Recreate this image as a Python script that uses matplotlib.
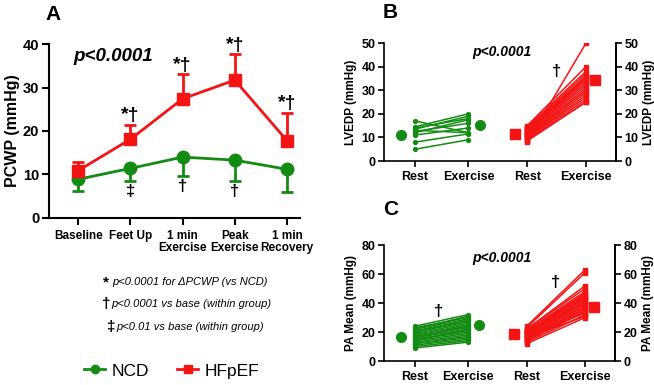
import matplotlib
matplotlib.use('Agg')
import matplotlib.pyplot as plt
from matplotlib.lines import Line2D

plt.rcParams['font.family'] = ['Liberation Sans', 'DejaVu Sans']
plt.rcParams['font.weight'] = 'bold'

GREEN = '#148c14'
RED = '#f41414'

# Panel A: PCWP over the protocol
a_stages = ['Baseline', 'Feet Up', '1 min\nExercise', 'Peak\nExercise', '1 min\nRecovery']
hf_mean = [10.9, 18.1, 27.4, 31.7, 17.8]
hf_err = [1.9, 3.2, 5.6, 5.9, 6.4]
ncd_mean = [8.9, 11.4, 14.0, 13.3, 11.2]
ncd_err = [2.6, 2.9, 4.4, 4.9, 5.2]
hf_marks = ['', '*†', '*†', '*†', '*†']
ncd_marks = ['', '‡', '†', '†', '']

# Panel B: LVEDP rest vs exercise
b_ncd_rest = [17, 14.5, 14, 13.5, 13, 12.5, 12, 11, 8, 5]
b_ncd_ex = [12, 20, 18, 19, 12, 16, 17.5, 14, 11.5, 9]
b_hf_rest = [8, 15, 14.5, 14, 13.5, 13, 13, 12.5, 12, 12, 11.5, 11, 11, 10.5, 10, 10, 9.5, 9, 8.5, 13]
b_hf_ex = [50, 40, 38, 37, 36, 35.5, 35, 34, 33, 32, 31, 30, 30, 29, 28, 27, 26, 25, 25, 34]
b_means = [11.0, 15.3, 11.5, 34.5]

# Panel C: PA mean rest vs exercise
c_ncd_rest = [24, 23, 22, 21, 20, 19, 18, 18, 17, 16, 15, 15, 14, 13, 12, 12, 11, 10, 9, 22, 20, 16, 14]
c_ncd_ex = [32, 30, 29, 28, 27, 26, 25, 24, 23, 22, 21, 20, 19, 18, 17, 16, 15, 14, 13, 31, 28, 24, 22]
c_hf_rest = [24, 23, 22, 22, 21, 20, 20, 19, 19, 18, 18, 17, 17, 16, 16, 15, 15, 14, 14, 13, 12, 21, 20, 18, 16]
c_hf_ex = [63, 61, 52, 50, 48, 47, 46, 45, 44, 43, 42, 41, 40, 39, 38, 37, 36, 35, 34, 32, 30, 44, 40, 33, 31]
c_means = [16.5, 24.5, 18.5, 37.5]

pair_labels = ['Rest', 'Exercise', 'Rest', 'Exercise']
pair_x = [1, 2, 3.1, 4.2]
mean_x = [0.74, 2.21, 2.87, 4.36]

fig = plt.figure(figsize=(6.54, 3.85), dpi=100)

# ---------- A ----------
ax = fig.add_axes([0.0749, 0.4338, 0.3838, 0.4519])
xa = list(range(len(a_stages)))
ax.errorbar(xa, hf_mean, yerr=[[0] * 5, hf_err], color=RED, lw=2, marker='s', ms=9,
            capsize=4, capthick=2, elinewidth=2, zorder=3)
ax.errorbar(xa, ncd_mean, yerr=[ncd_err, [0] * 5], color=GREEN, lw=2, marker='o', ms=9,
            capsize=4, capthick=2, elinewidth=2, zorder=2)
for i in xa:
    if hf_marks[i]:
        ax.text(i, hf_mean[i] + hf_err[i] + 0.2, hf_marks[i], ha='center', va='bottom',
                fontsize=14, fontweight='bold')
    if ncd_marks[i]:
        ax.text(i, ncd_mean[i] - ncd_err[i] - 0.7, ncd_marks[i], ha='center', va='top',
                fontsize=12, fontweight='bold')
ax.text(0.096, 0.93, 'p<0.0001', transform=ax.transAxes, fontsize=13.5, fontstyle='italic',
        fontweight='bold', va='center')
ax.set_xlim(-0.56, 4.25)
ax.set_ylim(0, 40)
ax.set_yticks([0, 10, 20, 30, 40])
ax.set_xticks(xa)
ax.set_xticklabels(a_stages, fontsize=8.5, fontweight='bold', linespacing=1.0)
ax.set_ylabel('PCWP (mmHg)', fontsize=11.5, fontweight='bold', labelpad=2)
ax.tick_params(axis='y', labelsize=10.5, width=1.5, length=5, pad=2)
ax.tick_params(axis='x', width=1.5, length=5)
for s in ['top', 'right']:
    ax.spines[s].set_visible(False)
for s in ['left', 'bottom']:
    ax.spines[s].set_linewidth(1.5)
fig.text(45 / 654, 1 - 14 / 385, 'A', fontsize=15, fontweight='bold', va='center')

# footnotes
notes = [('*', 'p<0.0001 for ΔPCWP (vs NCD)', 103, 282),
         ('†', 'p<0.0001 vs base (within group)', 102, 304),
         ('‡', 'p<0.01 vs base (within group)', 107, 327)]
for sym, txt, px, py in notes:
    fig.text(px / 654, 1 - py / 385, sym, fontsize=11, fontweight='bold', ha='left', va='center')
    fig.text((px + 9) / 654, 1 - py / 385, txt, fontsize=8, fontweight='normal',
             fontstyle='italic', ha='left', va='center')

handles = [Line2D([], [], color=GREEN, lw=2, marker='o', ms=6),
           Line2D([], [], color=RED, lw=2, marker='s', ms=6)]
fig.legend(handles, ['NCD', 'HFpEF'], loc='center', bbox_to_anchor=(172 / 654, 1 - 371 / 385),
           ncol=2, frameon=False, prop={'size': 12.5, 'weight': 'normal'}, handlelength=1.2,
           handletextpad=0.4, columnspacing=1.6)


def pair_panel(rect, letter, ncd_r, ncd_e, hf_r, hf_e, means, ymax, ystep, ylabel, ptxt_y, dag, letter_y):
    ax = fig.add_axes(rect)
    for r, e in zip(ncd_r, ncd_e):
        ax.plot(pair_x[:2], [r, e], color=GREEN, lw=1.1, marker='o', ms=2.8)
    for r, e in zip(hf_r, hf_e):
        ax.plot(pair_x[2:], [r, e], color=RED, lw=1.1, marker='s', ms=2.8)
    ax.plot(mean_x[0], means[0], 'o', color=GREEN, ms=7)
    ax.plot(mean_x[1], means[1], 'o', color=GREEN, ms=7)
    ax.plot(mean_x[2], means[2], 's', color=RED, ms=7)
    ax.plot(mean_x[3], means[3], 's', color=RED, ms=7)
    for dx, dy in dag:
        ax.text(dx, dy, '†', ha='center', va='center', fontsize=12, fontweight='bold')
    ax.text(2.63, ptxt_y, 'p<0.0001', ha='center', va='center', fontsize=10,
            fontstyle='italic', fontweight='bold')
    ax.set_xlim(0.42, 4.76)
    ax.set_ylim(0, ymax)
    ax.set_yticks(range(0, ymax + 1, ystep))
    ax.set_xticks(pair_x)
    ax.set_xticklabels(pair_labels, fontsize=9, fontweight='bold')
    ax.set_ylabel(ylabel, fontsize=8.5, fontweight='bold', labelpad=3)
    ax.tick_params(axis='y', labelsize=9, width=1.2, length=4, pad=2)
    ax.tick_params(axis='x', width=1.2, length=4)
    ax.spines['top'].set_visible(False)
    for s in ['left', 'bottom', 'right']:
        ax.spines[s].set_linewidth(1.2)
    ax2 = ax.twinx()
    ax2.set_ylim(0, ymax)
    ax2.set_yticks(range(0, ymax + 1, ystep))
    ax2.tick_params(axis='y', labelsize=9, width=1.2, length=4, pad=2)
    ax2.set_ylabel(ylabel, fontsize=8.5, fontweight='bold', labelpad=3)
    for s in ['top', 'left', 'bottom']:
        ax2.spines[s].set_visible(False)
    ax2.spines['right'].set_linewidth(1.2)
    fig.text(383 / 654, 1 - letter_y / 385, letter, fontsize=15, fontweight='bold', va='center')
    return ax


pair_panel([0.5872, 0.5818, 0.3547, 0.3065], 'B', b_ncd_rest, b_ncd_ex, b_hf_rest, b_hf_ex,
           b_means, 50, 10, 'LVEDP (mmHg)', 46, [(3.65, 37.8)], 13)
pair_panel([0.5872, 0.0623, 0.3532, 0.3013], 'C', c_ncd_rest, c_ncd_ex, c_hf_rest, c_hf_ex,
           c_means, 80, 20, 'PA Mean (mmHg)', 71, [(1.45, 34), (3.65, 54)], 210)

fig.savefig('out.png', dpi=100)
